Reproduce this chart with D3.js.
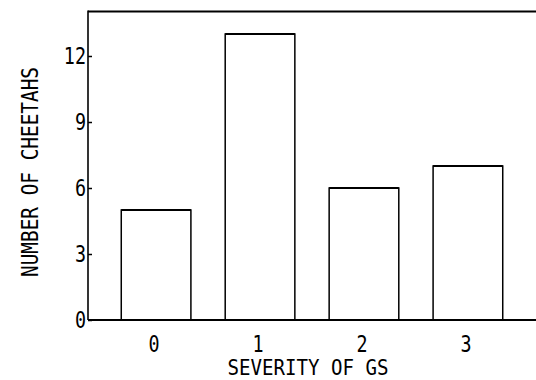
<!DOCTYPE html>
<html>
<head>
<meta charset="utf-8">
<script src="https://cdn.jsdelivr.net/npm/d3@7"></script>
<style>
  html, body { margin: 0; padding: 0; background: #fff; }
  svg { display: block; }
  text { font-family: "DejaVu Sans Mono", monospace; fill: #000; }
</style>
</head>
<body>
<script>
// Number of cheetahs by severity grade of GS
const categories = ["0", "1", "2", "3"];
const counts = [5, 13, 6, 7];
const yTicks = [0, 3, 6, 9, 12];
const xTitle = "SEVERITY OF GS";
const yTitle = "NUMBER OF CHEETAHS";

const W = 536, H = 380;
const plotLeft = 88, plotRight = 536, plotTop = 12, plotBottom = 320;
const fontSize = 23, squeeze = 0.8;

const svg = d3.select("body").append("svg").attr("width", W).attr("height", H);

const x = d3.scaleBand().domain(categories).range([plotLeft, plotRight])
  .paddingInner(0.33).paddingOuter(0.32);
const y = d3.scaleLinear().domain([0, 14]).range([plotBottom, plotTop]);

// bars
const bars = svg.append("g");
bars.selectAll("rect").data(categories).join("rect")
  .attr("x", d => x(d))
  .attr("y", (d, i) => y(counts[i]))
  .attr("width", x.bandwidth())
  .attr("height", (d, i) => y(0) - y(counts[i]))
  .attr("fill", "none").attr("stroke", "#000").attr("stroke-width", 1.5);
bars.selectAll("line").data(categories).join("line")
  .attr("x1", d => x(d)).attr("x2", d => x(d) + x.bandwidth())
  .attr("y1", (d, i) => y(counts[i])).attr("y2", (d, i) => y(counts[i]))
  .attr("stroke", "#000").attr("stroke-width", 2.2);

// frame: top rule and baseline
svg.append("line").attr("x1", plotLeft).attr("x2", plotRight)
  .attr("y1", plotTop - 0.5).attr("y2", plotTop - 0.5)
  .attr("stroke", "#000").attr("stroke-width", 2);
svg.append("line").attr("x1", plotLeft).attr("x2", plotRight)
  .attr("y1", plotBottom).attr("y2", plotBottom)
  .attr("stroke", "#000").attr("stroke-width", 2);

// y axis with inward ticks
const yAxis = d3.axisRight(y).tickValues(yTicks).tickSize(4).tickFormat("");
const ya = svg.append("g").attr("transform", `translate(${plotLeft},0)`).call(yAxis);
ya.select(".domain").attr("stroke-width", 1.6).attr("d", `M0,${plotTop - 1.5}V${plotBottom}`);
ya.selectAll(".tick line").attr("stroke-width", 1.5);
const lx = plotLeft - 2;
svg.append("g").selectAll("text").data(yTicks).join("text")
  .attr("x", lx).attr("y", d => y(d)).attr("dy", "0.36em")
  .attr("text-anchor", "end").attr("font-size", fontSize)
  .attr("transform", `translate(${lx},0) scale(${squeeze},1) translate(${-lx},0)`)
  .text(d => d);

// x category labels
svg.append("g").selectAll("text").data(categories).join("text")
  .attr("transform", d => `translate(${x(d) + x.bandwidth() / 2 - 2},352) scale(${squeeze},1)`)
  .attr("text-anchor", "middle").attr("font-size", fontSize)
  .text(d => d);

// axis titles
svg.append("text").attr("x", 308).attr("y", 375)
  .attr("text-anchor", "middle").attr("font-size", 21)
  .attr("textLength", 161).attr("lengthAdjust", "spacingAndGlyphs")
  .text(xTitle);
svg.append("text").attr("transform", "translate(38,172) rotate(-90)")
  .attr("text-anchor", "middle").attr("font-size", fontSize)
  .attr("textLength", 210).attr("lengthAdjust", "spacingAndGlyphs")
  .text(yTitle);
</script>
</body>
</html>
